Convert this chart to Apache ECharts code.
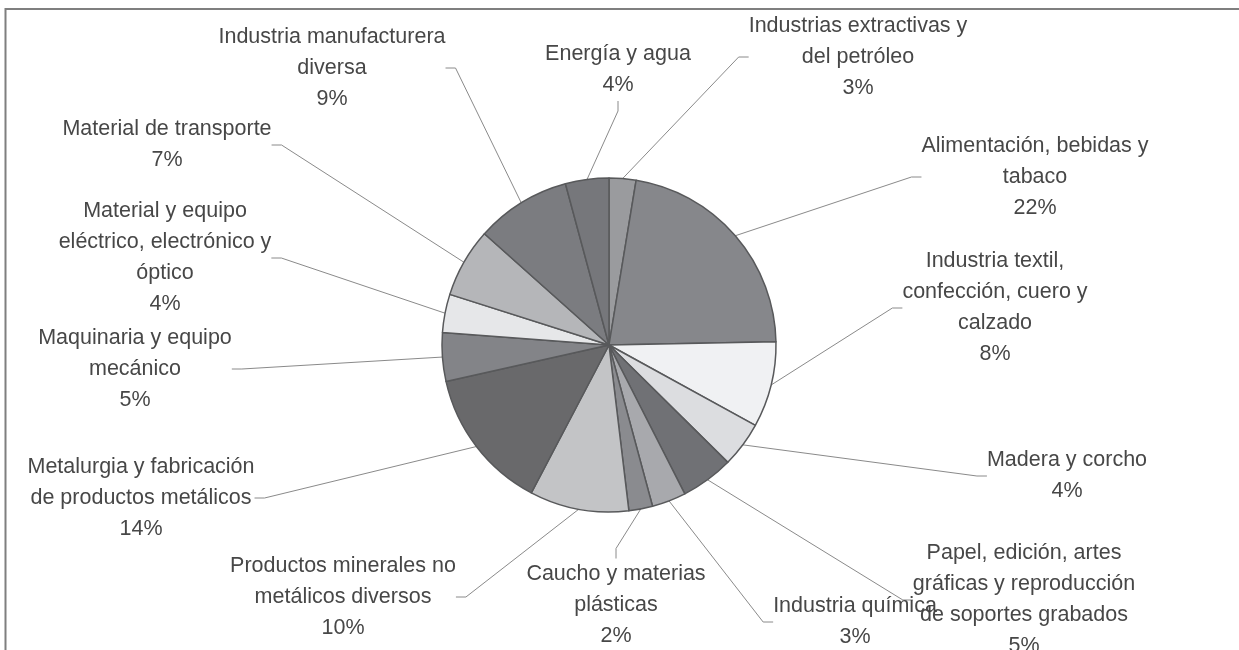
<!DOCTYPE html>
<html>
<head>
<meta charset="utf-8">
<script src="https://cdn.jsdelivr.net/npm/echarts@6/dist/echarts.min.js"></script>
<style>html,body{margin:0;padding:0;background:#fff}#c{width:1239px;height:650px}</style>
</head>
<body>
<div id="c"></div>
<script>
// Data, clockwise from 12 o'clock
const categories = [
  "Industrias extractivas y\ndel petróleo",
  "Alimentación, bebidas y\ntabaco",
  "Industria textil,\nconfección, cuero y\ncalzado",
  "Madera y corcho",
  "Papel, edición, artes\ngráficas y reproducción\nde soportes grabados",
  "Industria química",
  "Caucho y materias\nplásticas",
  "Productos minerales no\nmetálicos diversos",
  "Metalurgia y fabricación\nde productos metálicos",
  "Maquinaria y equipo\nmecánico",
  "Material y equipo\neléctrico, electrónico y\nóptico",
  "Material de transporte",
  "Industria manufacturera\ndiversa",
  "Energía y agua"
];
const values = [2.6, 22.1, 8.3, 4.4, 5.1, 3.3, 2.3, 9.6, 13.8, 4.7, 3.7, 6.7, 9.2, 4.2];
const colors = ["#9a9b9e", "#86878b", "#f0f1f3", "#dcdde0", "#707175", "#a8a9ad", "#8a8b8f",
                "#c3c4c6", "#69696b", "#838488", "#e6e7e9", "#b5b6b9", "#7b7c80", "#76777b"];

// Label block centres (layout, not data)
const labelPos = [
  [858, 57], [1035, 177], [995, 308], [1067, 476], [1024, 600], [855, 622], [616, 605],
  [343, 597], [141, 498], [135, 369], [165, 258], [167, 145], [332, 68], [618, 70]
];

const chart = echarts.init(document.getElementById('c'), null, {renderer: 'canvas'});
chart.setOption({
  animation: false,
  backgroundColor: '#fff',
  graphic: [
    {type: 'polyline', shape: {points: [[5.5, 650], [5.5, 9], [1239, 9]]},
     style: {stroke: '#7f7f7f', lineWidth: 2, fill: null}}
  ],
  series: [{
    type: 'pie',
    center: [609, 345],
    radius: 167,
    startAngle: 90,
    clockwise: true,
    avoidLabelOverlap: false,
    data: categories.map((n, i) => ({name: n, value: values[i], itemStyle: {color: colors[i]}})),
    itemStyle: {borderColor: '#58595b', borderWidth: 1.5},
    label: {
      show: true,
      formatter: p => p.name + '\n' + Math.round(p.percent) + '%',
      fontFamily: 'Liberation Sans, Arial, sans-serif',
      fontSize: 21.5,
      lineHeight: 31,
      color: '#474747',
      align: 'center'
    },
    labelLine: {show: true, length: 20, length2: 10, lineStyle: {color: '#8a8a8a', width: 1}},
    labelLayout: function (params) {
      const p = labelPos[params.dataIndex];
      return {x: p[0], y: p[1], align: 'center', verticalAlign: 'middle'};
    },
    emphasis: {disabled: true}
  }]
});
</script>
</body>
</html>
